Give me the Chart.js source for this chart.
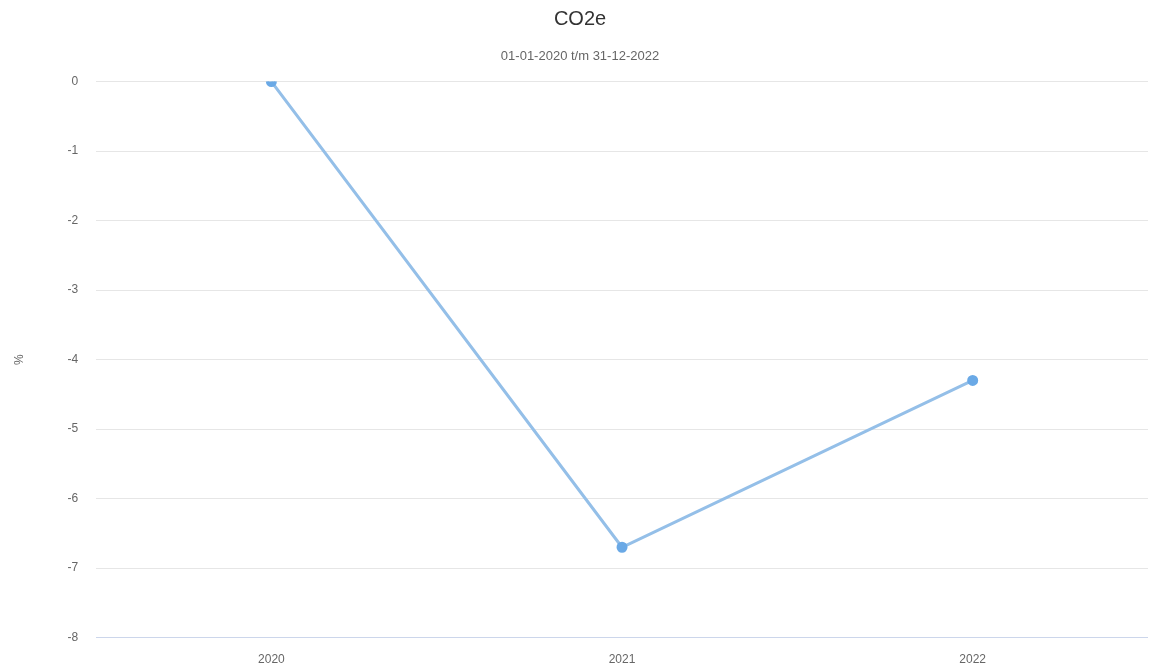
<!DOCTYPE html>
<html>
<head>
<meta charset="utf-8">
<script src="https://cdn.jsdelivr.net/npm/chart.js@4.4.1/dist/chart.umd.min.js"></script>
<style>
    html, body { margin: 0; padding: 0; background: #fff; }
    #wrap { width: 1152px; height: 669px; }
</style>
</head>
<body>
<div id="wrap"><canvas id="co2Chart" width="1152" height="669"></canvas></div>
<script>
const years = ['2020', '2021', '2022'];
const co2Change = [0, -6.7, -4.3];
const yMin = -8;
const yMax = 0;

const ctx = document.getElementById('co2Chart').getContext('2d');
Chart.defaults.font.family = '"Liberation Sans", Arial, sans-serif';

new Chart(ctx, {
    type: 'line',
    data: {
        labels: years,
        datasets: [{
            data: co2Change,
            borderColor: '#94bfe8',
            borderWidth: 3,
            backgroundColor: '#6aa9e6',
            pointBackgroundColor: '#6aa9e6',
            pointBorderColor: '#6aa9e6',
            pointRadius: 4,
            tension: 0
        }]
    },
    options: {
        responsive: false,
        animation: false,
        // no auto padding, the x labels leave enough room at the bottom
        layout: { autoPadding: false, padding: { left: 12, right: 4, top: 7, bottom: -5 } },
        plugins: {
            legend: { display: false },
            tooltip: { enabled: false },
            title: {
                display: true,
                text: 'CO2e',
                color: '#333333',
                font: { size: 20, weight: 'normal' },
                padding: { top: 0, bottom: 6 }
            },
            subtitle: {
                display: true,
                text: '01-01-2020 t/m 31-12-2022',
                color: '#666666',
                font: { size: 13 },
                padding: { top: 12, bottom: 17 }
            }
        },
        scales: {
            x: {
                offset: true,
                grid: { display: false },
                border: { display: false },
                ticks: { color: '#666666', font: { size: 12 }, padding: 7 }
            },
            y: {
                min: yMin,
                max: yMax,
                ticks: { stepSize: 1, color: '#666666', font: { size: 12 }, padding: 18 },
                grid: {
                    drawTicks: false,
                    color: c => c.tick && c.tick.value === yMin ? '#ccd6eb' : '#e6e6e6'
                },
                border: { display: false },
                title: {
                    display: true,
                    text: '%',
                    color: '#666666',
                    font: { size: 12 },
                    padding: { top: 0, bottom: 23 }
                }
            }
        }
    }
});
</script>
</body>
</html>
